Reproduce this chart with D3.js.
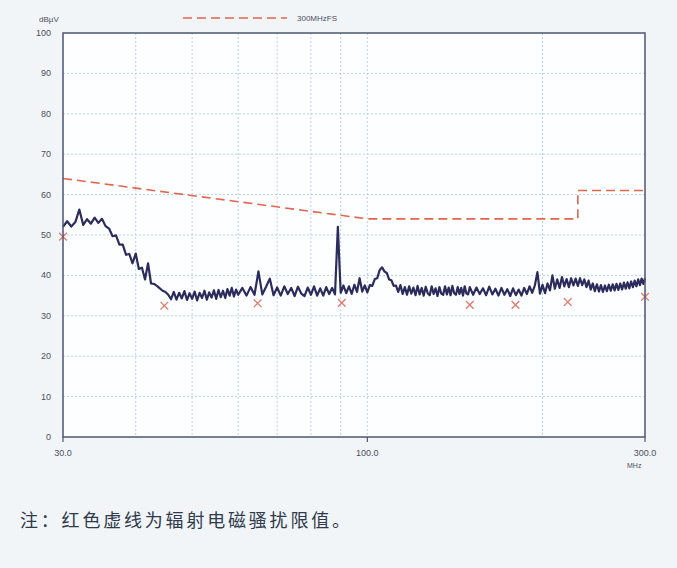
<!DOCTYPE html>
<html>
<head>
<meta charset="utf-8">
<script src="https://cdn.jsdelivr.net/npm/d3@7"></script>
<style>
  body { margin: 0; background: #f2f5f8; }
  svg { display: block; }
</style>
</head>
<body>
<script>
// measured trace (MHz / dBuV)
const traceFreq = [
  30.0, 30.5, 31.0, 31.5, 32.0, 32.5, 33.0, 33.5, 34.0, 34.5, 35.0, 35.5, 36.0, 36.5, 37.0, 37.5,
  38.0, 38.5, 39.0, 39.5, 40.0, 40.5, 41.0, 41.5, 42.0, 42.5, 43.0, 43.5, 44.0, 44.5, 45.0, 45.5,
  46.0, 46.5, 47.0, 47.5, 48.0, 48.5, 49.0, 49.5, 50.0, 50.5, 51.0, 51.5, 52.0, 52.5, 53.0, 53.5,
  54.0, 54.5, 55.0, 55.5, 56.0, 56.5, 57.0, 57.5, 58.0, 58.5, 59.0, 59.5, 60.0,
  61, 62, 63, 64, 65, 66, 67, 68, 69, 70, 71, 72, 73, 74, 75, 76, 77, 78, 79, 80,
  81, 82, 83, 84, 85, 86, 87, 88, 89, 90, 91, 92, 93, 94, 95, 96, 97, 98, 99, 100,
  101, 102, 103, 104, 105, 106, 107, 108, 109, 110, 111, 112, 113, 114, 115, 116, 117, 118, 119, 120,
  121, 122, 123, 124, 125, 126, 127, 128, 129, 130, 131, 132, 133, 134, 135, 136, 137, 138, 139, 140,
  141, 142, 143, 144, 145, 146, 147, 148, 149, 150,
  152, 154, 156, 158, 160, 162, 164, 166, 168, 170, 172, 174, 176, 178, 180, 182, 184, 186, 188, 190,
  192, 194, 196, 198, 200, 202, 204, 206, 208, 210, 212, 214, 216, 218, 220, 222, 224, 226, 228, 230,
  232, 234, 236, 238, 240, 242, 244, 246, 248, 250, 252, 254, 256, 258, 260, 262, 264, 266, 268, 270,
  272, 274, 276, 278, 280, 282, 284, 286, 288, 290, 292, 294, 296, 298, 300
];
const traceLevel = [
  52.0, 53.4, 52.1, 53.2, 56.3, 52.5, 53.9, 52.8, 54.3, 53.0, 54.0, 52.2, 51.6, 49.7, 49.9, 47.6,
  47.6, 45.1, 45.3, 43.0, 45.4, 41.6, 41.9, 39.0, 43.0, 38.0, 37.9, 37.4, 36.8, 36.2, 35.9, 35.2,
  34.1, 35.9, 34.0, 35.7, 34.3, 36.1, 33.9, 35.6, 34.2, 36.0, 33.8, 35.7, 34.4, 36.2, 34.0, 35.8,
  34.5, 36.3, 34.2, 36.4, 34.6, 36.2, 34.4, 36.6, 35.0, 36.9, 34.8, 36.5, 35.2,
  36.9, 35.0, 37.1, 35.2, 41.0, 35.3, 37.2, 39.2, 35.1, 37.0, 35.0, 37.3, 35.4, 36.9, 34.9, 37.2, 35.5, 34.9, 37.0, 35.2,
  37.3, 35.0, 36.8, 35.0, 37.1, 35.4, 36.9, 35.3, 52.0, 35.7, 37.5, 35.6, 37.3, 35.4, 37.7, 35.9, 39.3, 36.0, 37.5, 35.8,
  37.6, 37.4, 39.1, 39.3, 41.3, 42.0, 41.0, 40.6, 39.0, 38.8, 37.4, 37.5, 35.9, 37.6, 35.4, 37.1, 35.2, 37.3, 35.5, 37.0,
  35.1, 37.4, 35.3, 36.9, 35.0, 37.2, 35.6, 35.1, 37.3, 35.4, 36.8, 34.9, 37.1, 35.5, 35.2, 37.3, 35.3, 37.0, 35.1, 37.4,
  35.6, 35.2, 37.1, 35.4, 36.9, 35.0, 37.3, 35.5, 35.3, 37.1,
  35.2, 37.0, 35.4, 36.8, 35.1, 37.2, 35.3, 36.7, 35.0, 36.9, 35.2, 36.6, 34.9, 36.8, 35.1, 36.5, 35.0, 36.9, 35.4, 37.3,
  35.7, 37.5, 40.8, 35.5, 37.7, 35.6, 38.0, 36.3, 40.0, 36.7, 39.0, 36.9, 39.6, 37.3, 39.1, 37.1, 39.3, 37.5, 39.2, 37.4,
  39.3, 37.6, 39.0, 37.1, 38.7, 36.5, 38.0, 36.1, 37.8, 36.0, 37.6, 35.9, 37.5, 36.1, 37.7, 36.2, 37.8, 36.3, 37.9, 36.4,
  38.0, 36.5, 38.2, 36.7, 38.3, 36.8, 38.5, 37.1, 38.7, 37.3, 39.0, 37.6, 39.2, 37.9, 39.3
];

// limit line "300MHzFS"
const limitFreq = [30, 100, 230, 230, 300];
const limitLevel = [64, 54, 54, 61, 61];

// quasi-peak points (red crosses)
const qpFreq = [30, 44.8, 64.8, 90.4, 150, 179.7, 221, 300];
const qpLevel = [49.6, 32.5, 33.1, 33.2, 32.7, 32.7, 33.4, 34.7];

const yTicks = [0, 10, 20, 30, 40, 50, 60, 70, 80, 90, 100];
const xGrid = [40, 50, 60, 70, 80, 90, 100, 200];
const xLabels = [30, 100, 300];

const width = 677;
const height = 568;
const margin = { left: 63, right: 32, top: 33, bottom: 131 };

const svg = d3.select('body').append('svg').attr('width', width).attr('height', height);

const x = d3.scaleLog().domain([30, 300]).range([margin.left, width - margin.right]);
const y = d3.scaleLinear().domain([0, 100]).range([height - margin.bottom, margin.top]);

// plot background
svg.append('rect')
  .attr('x', x(30)).attr('y', y(100))
  .attr('width', x(300) - x(30)).attr('height', y(0) - y(100))
  .attr('fill', '#fdfeff');

// grid
const gGrid = svg.append('g');
gGrid.selectAll('line.h').data(yTicks.slice(1, -1)).join('line')
  .attr('x1', x(30)).attr('x2', x(300))
  .attr('y1', (d) => y(d)).attr('y2', (d) => y(d))
  .attr('stroke', '#bcd0e6').attr('stroke-width', 1).attr('stroke-dasharray', '2,2');
gGrid.selectAll('line.v').data(xGrid).join('line')
  .attr('x1', (d) => x(d)).attr('x2', (d) => x(d))
  .attr('y1', y(100)).attr('y2', y(0))
  .attr('stroke', '#bcd0e6').attr('stroke-width', 1).attr('stroke-dasharray', '2,2');

// limit line
const limitData = limitFreq.map((f, i) => [f, limitLevel[i]]);
svg.append('path')
  .datum(limitData)
  .attr('fill', 'none')
  .attr('stroke', '#e0664e')
  .attr('stroke-width', 1.6)
  .attr('stroke-dasharray', '9,5')
  .attr('d', d3.line().x((d) => x(d[0])).y((d) => y(d[1])));

// trace
const traceData = traceFreq.map((f, i) => [f, traceLevel[i]]);
svg.append('path')
  .datum(traceData)
  .attr('fill', 'none')
  .attr('stroke', '#2b2b5c')
  .attr('stroke-width', 2.2)
  .attr('stroke-linejoin', 'round')
  .attr('d', d3.line().x((d) => x(d[0])).y((d) => y(d[1])));

// quasi-peak crosses
const qp = qpFreq.map((f, i) => [f, qpLevel[i]]);
svg.append('g').selectAll('path').data(qp).join('path')
  .attr('transform', (d) => `translate(${x(d[0])},${y(d[1])})`)
  .attr('d', d3.symbol(d3.symbolX, 40))
  .attr('fill', 'none')
  .attr('stroke', '#e07a6c')
  .attr('stroke-width', 1.3);

// frame
svg.append('rect')
  .attr('x', x(30)).attr('y', y(100))
  .attr('width', x(300) - x(30)).attr('height', y(0) - y(100))
  .attr('fill', 'none')
  .attr('stroke', '#4d5670')
  .attr('stroke-width', 1.5);

// y axis labels
svg.append('g').selectAll('text').data(yTicks).join('text')
  .attr('x', 51).attr('y', (d) => y(d) + 3)
  .attr('text-anchor', 'end')
  .attr('font-family', 'Liberation Sans, Arial, sans-serif')
  .attr('font-size', 9)
  .attr('fill', '#4a4f5c')
  .text((d) => d);

svg.append('text')
  .attr('x', 39).attr('y', 22)
  .attr('font-family', 'Liberation Sans, Arial, sans-serif')
  .attr('font-size', 8)
  .attr('fill', '#4a4f5c')
  .text('dBµV');

// x axis ticks + labels
svg.append('g').selectAll('line').data(xLabels).join('line')
  .attr('x1', (d) => x(d)).attr('x2', (d) => x(d))
  .attr('y1', y(0)).attr('y2', y(0) + 5)
  .attr('stroke', '#4d5670').attr('stroke-width', 1.2);
svg.append('g').selectAll('text').data(xLabels).join('text')
  .attr('x', (d) => x(d)).attr('y', y(0) + 19)
  .attr('text-anchor', 'middle')
  .attr('font-family', 'Liberation Sans, Arial, sans-serif')
  .attr('font-size', 9)
  .attr('fill', '#4a4f5c')
  .text((d) => d3.format('.1f')(d));
svg.append('text')
  .attr('x', 627).attr('y', y(0) + 31)
  .attr('font-family', 'Liberation Sans, Arial, sans-serif')
  .attr('font-size', 7)
  .attr('fill', '#4a4f5c')
  .text('MHz');

// legend
svg.append('line')
  .attr('x1', 183).attr('x2', 287).attr('y1', 18).attr('y2', 18)
  .attr('stroke', '#e0664e').attr('stroke-width', 1.5).attr('stroke-dasharray', '9,5');
svg.append('text')
  .attr('x', 297).attr('y', 21)
  .attr('font-family', 'Liberation Sans, Arial, sans-serif')
  .attr('font-size', 8)
  .attr('fill', '#4a4f5c')
  .text('300MHzFS');

// caption
svg.append('text')
  .attr('x', 20).attr('y', 527)
  .attr('font-family', '"Noto Sans CJK SC", sans-serif')
  .attr('font-size', 18)
  .attr('letter-spacing', 2.8)
  .attr('fill', '#2f3a4a')
  .text('注：红色虚线为辐射电磁骚扰限值。');
</script>
</body>
</html>
